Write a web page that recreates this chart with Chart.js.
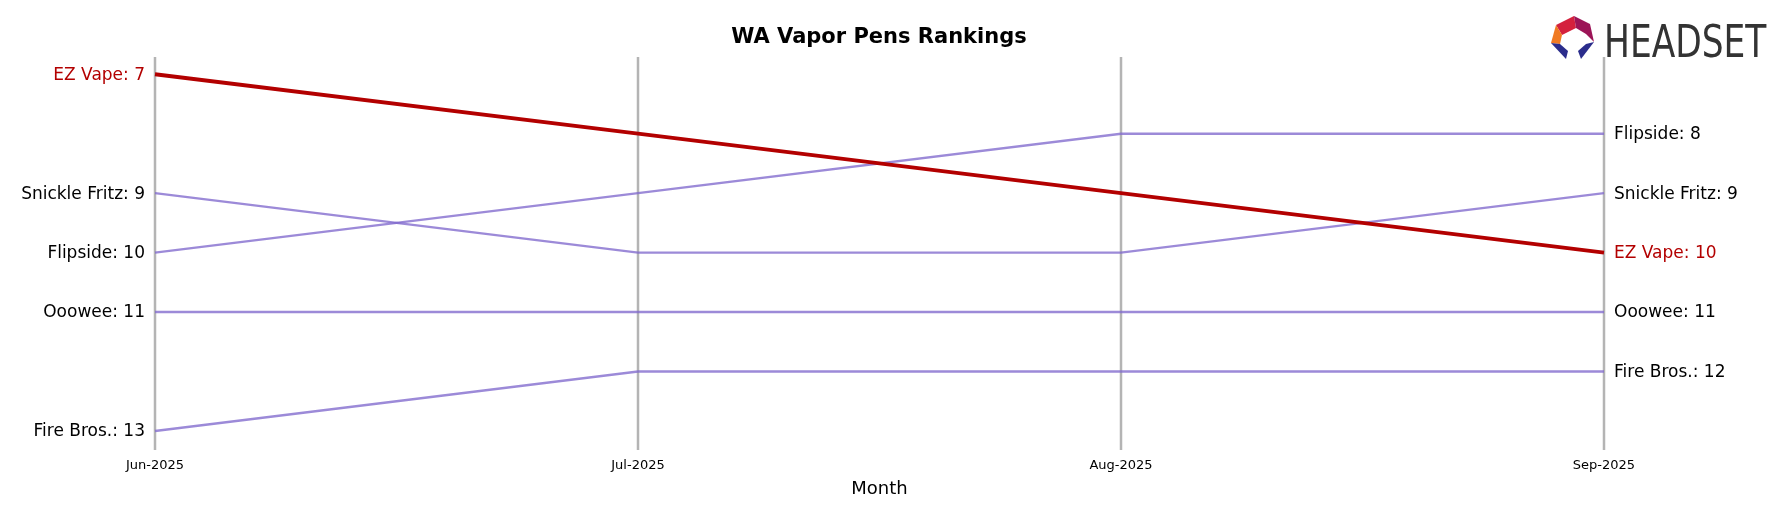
<!DOCTYPE html>
<html>
<head>
<meta charset="utf-8">
<script src="https://cdn.jsdelivr.net/npm/chart.js@4/dist/chart.umd.min.js"></script>
<style>
  html, body { margin: 0; padding: 0; background: #fff; }
  #wrap { width: 1788px; height: 507px; position: relative; }
</style>
</head>
<body>
<div id="wrap"><canvas id="chart"></canvas></div>
<script>
// data
const months = ['Jun-2025', 'Jul-2025', 'Aug-2025', 'Sep-2025'];
const brands = ['EZ Vape', 'Snickle Fritz', 'Flipside', 'Ooowee', 'Fire Bros.'];
const ezVape = [7, 8, 9, 10];
const snickleFritz = [9, 10, 10, 9];
const flipside = [10, 9, 8, 8];
const ooowee = [11, 11, 11, 11];
const fireBros = [13, 12, 12, 12];
const series = [ezVape, snickleFritz, flipside, ooowee, fireBros];
const highlight = 'EZ Vape';

const RED = '#b30000';
const PURPLE = 'rgba(128,105,205,0.78)';
const FONT = '"DejaVu Sans", sans-serif';

// gridlines, labels, title, logo
const decor = {
  id: 'decor',
  beforeDatasetsDraw(chart) {
    const { ctx, scales: { x }, chartArea } = chart;
    ctx.save();
    ctx.strokeStyle = '#b4b4b4';
    ctx.lineWidth = 2.5;
    months.forEach((m, i) => {
      const px = x.getPixelForValue(i);
      ctx.beginPath();
      ctx.moveTo(px, chartArea.top);
      ctx.lineTo(px, chartArea.bottom);
      ctx.stroke();
    });
    ctx.restore();
  },
  afterDraw(chart) {
    const { ctx, scales: { x, y } } = chart;
    ctx.save();
    ctx.font = '17px ' + FONT;
    ctx.textBaseline = 'middle';
    const left = x.getPixelForValue(0), right = x.getPixelForValue(months.length - 1);
    brands.forEach((b, i) => {
      const s = series[i];
      ctx.fillStyle = b === highlight ? RED : '#000';
      ctx.textAlign = 'right';
      ctx.fillText(b + ': ' + s[0], left - 10, y.getPixelForValue(s[0]) + 1);
      ctx.textAlign = 'left';
      ctx.fillText(b + ': ' + s[s.length - 1], right + 10, y.getPixelForValue(s[s.length - 1]) + 1);
    });
    // x ticks
    ctx.fillStyle = '#000';
    ctx.textAlign = 'center';
    ctx.font = '13px ' + FONT;
    months.forEach((m, i) => ctx.fillText(m, x.getPixelForValue(i), 466));
    ctx.font = '18px ' + FONT;
    ctx.fillText('Month', (left + right) / 2, 489);
    ctx.font = 'bold 21px ' + FONT;
    ctx.fillText('WA Vapor Pens Rankings', 879, 38);
    // logo
    ctx.fillStyle = '#d4213d';
    ctx.beginPath(); ctx.moveTo(1556, 25); ctx.lineTo(1574, 16); ctx.lineTo(1576, 28); ctx.lineTo(1562, 35); ctx.fill();
    ctx.fillStyle = '#9c1457';
    ctx.beginPath(); ctx.moveTo(1574, 16); ctx.lineTo(1590, 24); ctx.lineTo(1594, 42); ctx.lineTo(1586, 34); ctx.lineTo(1576, 28); ctx.fill();
    ctx.fillStyle = '#f07a22';
    ctx.beginPath(); ctx.moveTo(1556, 25); ctx.lineTo(1562, 35); ctx.lineTo(1560, 44); ctx.lineTo(1551, 43); ctx.fill();
    ctx.fillStyle = '#2b2d8c';
    ctx.beginPath(); ctx.moveTo(1551, 43); ctx.lineTo(1560, 44); ctx.lineTo(1568, 51); ctx.lineTo(1566, 59); ctx.fill();
    ctx.beginPath(); ctx.moveTo(1594, 42); ctx.lineTo(1586, 44); ctx.lineTo(1578, 51); ctx.lineTo(1581, 59); ctx.fill();
    ctx.fillStyle = '#333';
    ctx.font = '44px "Liberation Sans Narrow", "DejaVu Sans Condensed", sans-serif';
    ctx.textAlign = 'left';
    ctx.textBaseline = 'alphabetic';
    ctx.save();
    ctx.translate(1604, 57);
    ctx.scale(0.87, 1);
    ctx.fillText('HEADSET', 0, 0);
    ctx.restore();
    ctx.restore();
  }
};

new Chart(document.getElementById('chart'), {
  type: 'line',
  data: {
    labels: months,
    datasets: brands.map((b, i) => ({
      label: b,
      data: series[i],
      borderColor: b === highlight ? RED : PURPLE,
      borderWidth: b === highlight ? 3.8 : 2.4,
      pointRadius: 0,
      tension: 0,
      order: b === highlight ? 0 : 1
    }))
  },
  options: {
    responsive: true,
    maintainAspectRatio: false,
    animation: false,
    layout: { padding: { left: 155, right: 184, top: 57, bottom: 57 } },
    plugins: { legend: { display: false }, tooltip: { enabled: false } },
    scales: {
      x: { display: false, offset: false },
      y: { display: false, reverse: true, min: 6.71, max: 13.32 }
    }
  },
  plugins: [decor]
});
</script>
</body>
</html>
